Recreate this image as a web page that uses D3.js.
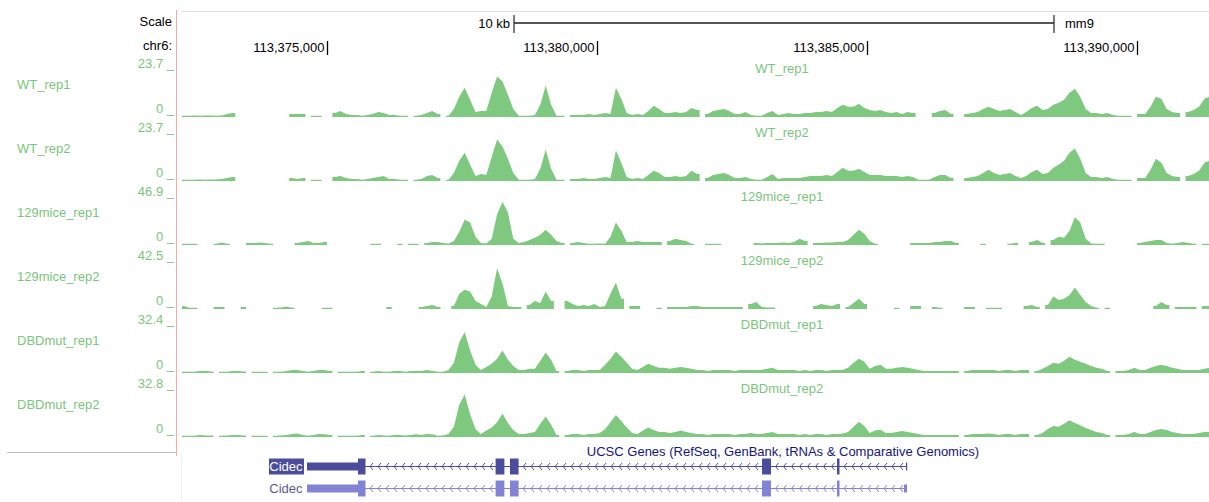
<!DOCTYPE html>
<html><head><meta charset="utf-8">
<script src="https://cdn.jsdelivr.net/npm/d3@7"></script>
<style>
body{margin:0;background:#fff;}
svg{display:block;font-family:"Liberation Sans",Arial,Helvetica,sans-serif;}
</style>
</head><body>
<svg id="c" width="1209" height="502"></svg>
<script>
// ---------- data ----------
const chrom = "chr6:";
const assembly = "mm9";
const binStart = 113372300;   // first bin start (bp)
const binSize = 100;          // bp per bin
const rulerTicks = [113375000, 113380000, 113385000, 113390000];
const scaleBarRange = [113378463, 113388463]; // 10 kb
const scaleBarLabel = "10 kb";

const trackNames = ["WT_rep1", "WT_rep2", "129mice_rep1", "129mice_rep2", "DBDmut_rep1", "DBDmut_rep2"];
const trackMax = [23.7, 23.7, 46.9, 42.5, 32.4, 32.8];

const WT_rep1 = [
0.5,0.5,0.8,0.5,0.8,0.8,0.5,0.8,1.5,2,
null,null,null,null,null,null,null,null,null,null,
1.5,1.5,1.5,null,0.5,0.5,null,null,2,3,
1.5,1,1,0.5,1,1.5,2.5,2,1,1,
0.5,0.5,null,0.5,1,2,3,1.5,null,0.5,
4,10,14.5,8.5,2.5,3,3,12,20,17.5,
11,4,0.5,0.5,0.5,1,6,15.5,6,0.5,
0.5,null,1,1,1,1.5,1,1.5,2,1.5,
14.5,9,2,1,1.5,1,3,5.5,4,2,
2,2.5,2,2.5,4.5,3.5,null,1.5,3,3.5,
4,3,1.5,1.5,2.5,1,0.5,0.5,2,3,
1,1.5,2,1.5,1.5,2,2,2.5,2.5,3,
2.5,4.5,6,5,5,6.5,4.5,3.5,3,3.5,
2.5,2,2.5,1.5,2.5,2,null,null,null,2,
3,3.5,1.5,null,null,1.5,2,2.5,4,5,
4,3,3.5,4,2.5,1,2.5,4.5,5.5,3.5,
4,6,7,8.5,12,14,10,4,2,2,
1.5,2,1,0.5,0.5,0.5,null,1.5,1.5,5,
10,9,4,2.5,2,null,2.5,3.5,5,9,10];

const WT_rep2 = [
0.5,0.5,0.5,0.8,0.5,0.8,0.8,1,1.5,2,
null,null,null,null,null,null,null,null,null,null,
1.5,1,1.5,null,0.5,0.5,null,null,2,2.5,
1.5,1,1,0.5,1,1.5,2,2.5,1,1,
0.5,0.5,null,0.5,1,2.5,3,1.5,null,0.5,
4,10,14,8,2.5,3.5,3,12,20.5,17,
11,4,0.5,0.5,0.5,1,6,15.5,6,0.5,
0.5,null,1,1,1.5,1,1,1.5,2,1.5,
15,9,2,1,1.5,1,3,5,4,2,
2,2.5,2,2.5,5,3.5,null,1.5,3,3.5,
4,3,1.5,1.5,2,1,0.5,0.5,2,3.5,
1,1.5,1.5,1.5,1.5,2,2.5,2.5,2.5,3,
2.5,4.5,6.5,5,5,6,4.5,3,3,3,
2.5,2.5,2.5,2,2.5,2,0.5,0.5,0.5,2,
3,3,1.5,null,null,1.5,2,2.5,4,5.5,
4,3,3.5,4,2.5,1.5,2.5,4.5,5.5,3.5,
4,6.5,8,10,14,16,11,4,2,2,
1.5,2,1,0.5,0.5,0.5,null,1.5,1.5,5.5,
11,9,4,2.5,2,null,2.5,3.5,5,9,10];

const mice129_rep1 = [
1,1,1,null,null,null,1,2.5,1,null,
null,null,2,2,2.5,2,1,null,null,null,
null,2,3,4,2,2,3,null,null,null,
null,null,null,null,null,1,1,null,null,null,
1,null,1,1,null,2,3,3,2,0.5,
4,13,25,22,8,2,1.5,6,30,42,
32,6,2,3,5,7,10,15,10,4,
2,null,2,3,2,1,1,1.5,1,8,
22,14,3,3,4,3,3,3,3,null,
4,6,5,4,1,null,null,1,1,1,
null,null,null,null,null,null,2,1.5,2,2,
2,2.5,2,3,6,4,null,2,2,2.5,
2.5,3,3,5,10,15,11,4,1,null,
null,null,null,null,null,2,2,2,2,3,
3,4,4,2,null,null,null,null,1,null,
null,null,null,1,2,null,null,3,5,2,
null,5,8,7,14,27,22,6,1.5,1,
1,null,null,null,null,null,null,2,3,4,
5,5,2,1,2,3,2,1,null,1,1];

const mice129_rep2 = [
2.7,0.9,0.9,null,null,null,1.8,1.8,null,null,
null,1.8,null,null,null,null,null,0.9,1.4,2.3,
0.9,null,null,null,null,null,0.9,0.9,null,null,
null,null,null,null,null,null,null,null,1.8,null,
null,null,null,null,1.8,2.7,3.6,1.8,null,null,
2.7,13.5,17,15.5,7,4.5,1.8,11,36,22.5,
2.7,1.8,1.8,null,3.6,7,5.4,15.5,7,null,
null,7,4.5,2.7,3.6,2.7,4.5,1.8,2.7,13.5,
23.5,9,null,2.7,2.7,null,null,null,0.9,null,
1.8,1.8,1.8,1.8,2.7,2.7,1.8,1.8,1.8,1.8,
1.8,1.8,1.8,1.8,null,4.5,6.3,1.8,1.4,1.4,
null,null,null,null,null,null,null,2.7,4.5,3.6,
2.7,4.5,null,1.8,5.4,9,4.5,null,null,null,
null,null,0.9,null,null,2.7,2.7,null,null,1.8,
0.9,null,null,null,null,1.8,1.8,null,null,0.9,
0.9,0.9,null,null,null,null,2.7,3.6,1.8,null,
3.6,11,8,9,12.5,19,12.5,6.3,2.7,0.9,
null,0.9,null,null,null,null,null,null,null,null,
2.7,6.3,3.6,null,1.8,1.8,1.8,1.8,null,2.7,2.7];

const DBDmut_rep1 = [
0.7,0.7,0.7,1.4,1.4,1,null,0.7,0.7,1.4,
1.4,1,null,0.7,0.7,0.7,null,0.7,0.7,1.4,
2.1,2.1,1.4,0.7,1.4,2.1,2.1,1.4,null,0.7,
0.7,0.7,0.7,1.4,null,0.7,1.4,0.7,0.7,1.4,
1.4,0.7,1.4,1.4,1.4,2.1,1.4,0.7,0.7,2.1,
6.9,20.7,27.6,15.2,5.5,2.1,4.1,6.2,9.7,15.2,
9,4.8,2.1,2.1,2.8,2.8,8.3,13.8,9,1.4,
null,1.4,2.1,2.1,1.4,2.1,2.1,2.1,5.5,9.7,
14.5,11,6.9,2.8,2.1,4.1,6.2,4.8,3.5,3.5,
2.8,3.5,4.1,3.5,2.8,2.1,2.1,1.4,2.1,2.1,
2.1,2.1,1.4,2.1,2.1,2.1,2.1,2.1,2.8,3.5,
2.1,2.1,2.1,2.1,1.4,2.1,1.4,2.1,2.1,1.4,
2.1,2.1,2.1,3.5,6.9,9.7,7.6,2.8,4.8,5.5,
2.8,2.8,3.5,4.1,3.5,2.8,2.1,1.4,1.4,1.4,
1.4,1.4,1.4,1.4,null,1.4,2.1,2.1,2.1,2.1,
2.1,1.4,2.1,2.1,1.4,2.1,2.1,null,1.4,2.8,
4.8,6.9,6.2,8.3,11,9,7.6,6.2,4.8,3.5,
2.8,1.4,null,1.4,1.4,2.1,3.5,2.1,2.1,3.5,
4.8,5.5,4.8,3.5,2.8,2.1,2.1,2.1,2.1,2.8,3.5];

const DBDmut_rep2 = [
0.7,0.7,0.7,1.4,1,1,null,0.7,1,1.4,
1.4,1,null,0.7,0.7,0.7,null,0.7,1,1.4,
2.1,2.4,1.4,0.7,1.4,2.1,1.8,1.4,null,0.7,
0.7,0.7,0.7,1.4,null,0.7,1.4,1,0.7,1.4,
1.4,1,1.4,1.8,1.4,2.1,1.8,0.7,1,2.1,
7,22,29,15.5,5.5,2.1,4.5,6.5,10,16,
9.5,4.8,2.1,2.1,2.8,3.5,9,14,8.5,1.4,
null,1.4,2.1,2.1,1.4,2.1,2.1,2.8,5.5,10,
15,11,6.5,2.8,2.1,4.5,6.5,4.8,3.5,3.5,
2.8,3.5,4.5,3.5,2.8,2.1,2.1,1.4,2.1,2.1,
2.1,2.1,1.4,2.1,2.1,2.8,2.1,2.1,2.8,3.5,
2.1,2.1,2.1,2.1,1.4,2.1,1.4,2.1,2.1,1.4,
2.1,2.1,2.4,3.5,7,10.5,7.6,2.8,4.5,5,
2.8,2.8,3.5,4.1,3.5,2.8,2.1,1.4,1.4,1.4,
1.4,1.4,1.4,1.4,null,1.4,2.1,2.1,2.1,2.4,
2.1,1.4,2.1,2.1,1.4,2.1,2.1,null,1.4,2.8,
5.5,7.6,7,9,11.5,9.5,8,6.2,4.8,3.5,
2.8,1.4,null,1.4,1.4,2.1,3.5,2.1,2.1,3.5,
4.8,5.5,4.8,3.5,2.8,2.1,2.1,2.1,2.8,3.5,3.5];

const trackValues = [WT_rep1, WT_rep2, mice129_rep1, mice129_rep2, DBDmut_rep1, DBDmut_rep2];

const geneTrackTitle = "UCSC Genes (RefSeq, GenBank, tRNAs & Comparative Genomics)";
const geneNames = ["Cidec", "Cidec"];
const geneTxStart = [113374630, 113374630];
const geneTxEnd = [113385741, 113385741];
const geneCdsStart = [113375574, 113375574];
const geneCdsEnd = [113384491, 113384491];
const geneExons = [
  [[113374630,113375713],[113378122,113378285],[113378389,113378548],[113383056,113383222],[113384444,113384491],[113385722,113385741]],
  [[113374630,113375713],[113378122,113378285],[113378389,113378548],[113383056,113383222],[113384444,113384491],[113385685,113385741]]
];

// ---------- drawing ----------
const svg = d3.select("#c");
const W = 1209;
const plotL = 182, plotR = 1209;
const x = d3.scaleLinear().domain([113375000, 113390000]).range([327, 1137]);
const green = "rgb(127,200,127)";
const labelGreen = "rgb(122,198,122)";
const trackTop0 = 69, trackBot0 = 117, trackStep = 64;
const fontSize = 13;

svg.append("defs").append("clipPath").attr("id","plotclip")
  .append("rect").attr("x",plotL).attr("y",0).attr("width",plotR-plotL).attr("height",502);

// ruler
svg.append("line").attr("x1",plotL).attr("x2",plotR).attr("y1",11.5).attr("y2",11.5)
  .attr("stroke","#dedede").attr("stroke-width",1);
svg.append("text").attr("x",172).attr("y",26).attr("text-anchor","end")
  .attr("font-size",fontSize).attr("fill","#000").text("Scale");
svg.append("text").attr("x",172).attr("y",50).attr("text-anchor","end")
  .attr("font-size",fontSize).attr("fill","#000").text(chrom);

const sb0 = x(scaleBarRange[0]), sb1 = x(scaleBarRange[1]);
svg.append("line").attr("x1",sb0).attr("x2",sb1).attr("y1",23).attr("y2",23)
  .attr("stroke","#555").attr("stroke-width",2);
[sb0, sb1].forEach(p => svg.append("line").attr("x1",p).attr("x2",p).attr("y1",15).attr("y2",33)
  .attr("stroke","#333").attr("stroke-width",1.3));
svg.append("text").attr("x",sb0-4).attr("y",28).attr("text-anchor","end")
  .attr("font-size",fontSize).attr("fill","#000").text(scaleBarLabel);
svg.append("text").attr("x",sb1+11).attr("y",28)
  .attr("font-size",fontSize).attr("fill","#000").text(assembly);

const rulerAxis = d3.axisBottom(x).tickValues(rulerTicks).tickFormat(d3.format(",")).tickSize(14).tickSizeOuter(0);
const rg = svg.append("g").attr("transform","translate(0,41)").call(rulerAxis);
rg.select(".domain").remove();
rg.attr("font-family",null).attr("font-size",null);
rg.selectAll(".tick line").attr("stroke","#000").attr("stroke-width",1.3);
rg.selectAll(".tick text").attr("y",11).attr("dy",null).attr("x",-3)
  .attr("text-anchor","end").attr("font-size",fontSize).attr("fill","#000");

// pink guide line and separators
svg.append("line").attr("x1",176.5).attr("x2",176.5).attr("y1",10).attr("y2",456)
  .attr("stroke","#f5a9a9").attr("stroke-width",1);
svg.append("line").attr("x1",7).attr("x2",176).attr("y1",452.5).attr("y2",452.5)
  .attr("stroke","#bdbdbd").attr("stroke-width",1);
svg.append("line").attr("x1",181.5).attr("x2",181.5).attr("y1",453).attr("y2",502)
  .attr("stroke","#efefef").attr("stroke-width",1);

// signal tracks
trackNames.forEach((name, ti) => {
  const top = trackTop0 + ti*trackStep, bot = trackBot0 + ti*trackStep;
  const y = d3.scaleLinear().domain([0, trackMax[ti]]).range([bot, top]).clamp(true);
  const vals = trackValues[ti];
  // build runs of consecutive defined bins
  const runs = [];
  let cur = null;
  vals.forEach((v, i) => {
    if (v == null) { cur = null; return; }
    if (!cur) { cur = []; runs.push(cur); }
    cur.push([i, v]);
  });
  const area = d3.area()
    .x(d => x(d[0]))
    .y0(bot)
    .y1(d => Math.min(bot - 1.2, y(d[1])))
    .curve(d3.curveLinear);
  const g = svg.append("g").attr("clip-path","url(#plotclip)");
  runs.forEach(run => {
    const pts = [];
    const first = run[0], last = run[run.length-1];
    pts.push([binStart + first[0]*binSize, first[1]]);
    run.forEach(([i,v]) => pts.push([binStart + (i+0.5)*binSize, v]));
    pts.push([binStart + (last[0]+1)*binSize, last[1]]);
    g.append("path").attr("d", area(pts)).attr("fill", green);
  });
  // labels
  svg.append("text").attr("x",17).attr("y",top+15+4.5).attr("font-size",fontSize)
    .attr("fill",labelGreen).text(name);
  svg.append("text").attr("x",174).attr("y",top-1).attr("text-anchor","end")
    .attr("font-size",fontSize).attr("fill",labelGreen).text(trackMax[ti] + " _");
  svg.append("text").attr("x",174).attr("y",bot-4).attr("text-anchor","end")
    .attr("font-size",fontSize).attr("fill",labelGreen).text("0 _");
  svg.append("text").attr("x",782).attr("y",top+4).attr("text-anchor","middle")
    .attr("font-size",fontSize).attr("fill",labelGreen).text(name);
});

// gene track
svg.append("text").attr("x",783).attr("y",456).attr("text-anchor","middle")
  .attr("font-size",fontSize).attr("fill","#14147f").text(geneTrackTitle);

const geneRowY = [466, 488];
const geneColors = ["#4c4c9c", "#8383d3"];
const exonH = 16, utrH = 8;
geneNames.forEach((gname, gi) => {
  const cy = geneRowY[gi], col = geneColors[gi];
  const g = svg.append("g");
  const x0 = x(geneTxStart[gi]), x1 = x(geneTxEnd[gi]);
  g.append("line").attr("x1",x0).attr("x2",x1).attr("y1",cy+0.5).attr("y2",cy+0.5)
    .attr("stroke",col).attr("stroke-width",1);
  const ex = geneExons[gi];
  for (let i = 0; i < ex.length-1; i++) {
    const a = x(ex[i][1]), b = x(ex[i+1][0]);
    for (let p = a + 5; p < b - 2; p += 8) {
      g.append("path").attr("d", `M${p+2.5},${cy-3} L${p-0.5},${cy+0.5} L${p+2.5},${cy+4}`)
        .attr("fill","none").attr("stroke",col).attr("stroke-width",1);
    }
  }
  const cs = geneCdsStart[gi], ce = geneCdsEnd[gi];
  const rect = (s, e, h) => {
    const xs = x(s), xe = x(e);
    g.append("rect").attr("x",xs).attr("width",Math.max(1.2, xe-xs))
      .attr("y",cy - h/2 + 0.5).attr("height",h).attr("fill",col);
  };
  ex.forEach(([s,e]) => {
    if (s < cs) rect(s, Math.min(e, cs), utrH);
    if (e > ce) rect(Math.max(s, ce), e, utrH);
    const a = Math.max(s, cs), b = Math.min(e, ce);
    if (a < b) rect(a, b, exonH);
  });
  if (gi === 0) {
    svg.append("rect").attr("x",269).attr("y",cy-7.5).attr("width",35).attr("height",16).attr("fill",col);
    svg.append("text").attr("x",302.5).attr("y",cy+5).attr("text-anchor","end")
      .attr("font-size",fontSize).attr("fill","#fff").text(gname);
  } else {
    svg.append("text").attr("x",302.5).attr("y",cy+5).attr("text-anchor","end")
      .attr("font-size",fontSize).attr("fill","#5b5b8f").text(gname);
  }
});
</script>
</body></html>
